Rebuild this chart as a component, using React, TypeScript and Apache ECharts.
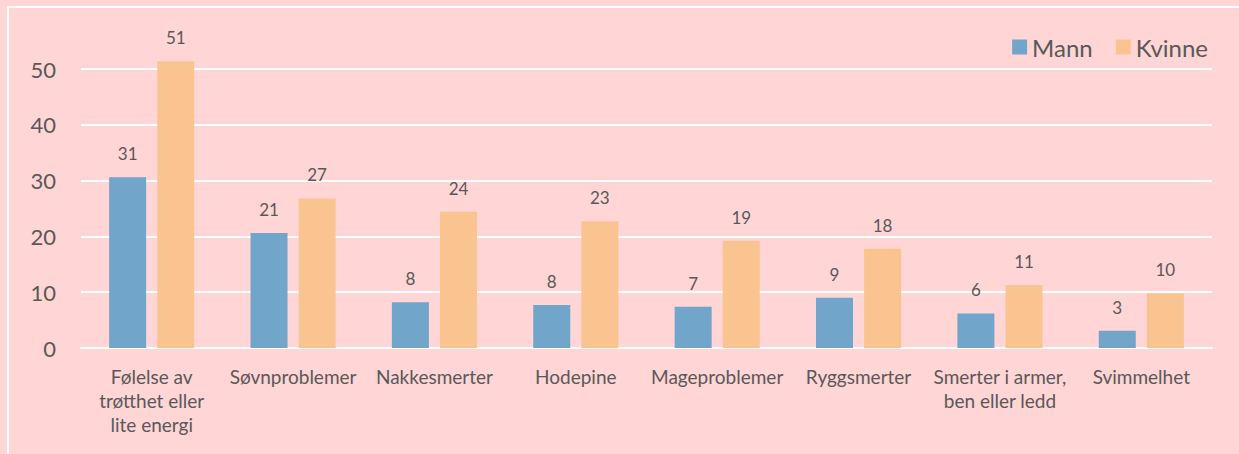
import React, { useEffect, useRef } from "react";
import * as echarts from "echarts";

const categories = [
  "Følelse av\ntrøtthet eller\nlite energi",
  "Søvnproblemer",
  "Nakkesmerter",
  "Hodepine",
  "Mageproblemer",
  "Ryggsmerter",
  "Smerter i armer,\nben eller ledd",
  "Svimmelhet",
];
const mann = [30.6, 20.6, 8.2, 7.7, 7.4, 9.0, 6.2, 3.1];
const kvinne = [51.4, 26.8, 24.4, 22.7, 19.2, 17.8, 11.3, 9.8];
const yTicks = { min: 0, max: 50, interval: 10 };

const FONT = "Lato, 'Noto Sans', sans-serif";
const TEXT = "#595959";

export default function App() {
  const ref = useRef<HTMLDivElement>(null);
  useEffect(() => {
    const chart = echarts.init(ref.current!, null, { renderer: "svg" });
    const label = {
      show: true,
      position: "top",
      distance: 15,
      color: TEXT,
      fontSize: 17,
      fontFamily: FONT,
      formatter: (p: any) => String(Math.round(p.value)),
    };
    chart.setOption({
      animation: false,
      backgroundColor: "#FFD5D5",
      textStyle: { fontFamily: FONT },
      graphic: [
        {
          type: "rect",
          shape: { x: 8, y: 7, width: 1400, height: 600 },
          style: { fill: "none", stroke: "#ffffff", lineWidth: 2 },
          silent: true,
        },
      ],
      legend: {
        right: 26,
        top: 30,
        itemWidth: 15,
        itemHeight: 15,
        itemGap: 23,
        icon: "rect",
        textStyle: { color: TEXT, fontSize: 24, fontFamily: FONT },
        data: ["Mann", "Kvinne"],
      },
      grid: { left: 81, right: 27, top: 69, bottom: 106, containLabel: false },
      xAxis: {
        type: "category",
        data: categories,
        axisLine: { show: true, lineStyle: { color: "#ffffff", width: 2 } },
        axisTick: { show: false },
        axisLabel: {
          color: TEXT,
          fontSize: 19,
          fontFamily: FONT,
          lineHeight: 24,
          margin: 16,
          interval: 0,
        },
      },
      yAxis: {
        type: "value",
        min: yTicks.min,
        max: yTicks.max,
        interval: yTicks.interval,
        axisLine: { show: false },
        axisTick: { show: false },
        splitLine: { lineStyle: { color: "#ffffff", width: 2 } },
        axisLabel: { color: TEXT, fontSize: 22, fontFamily: FONT, margin: 25 },
      },
      series: [
        {
          name: "Mann",
          type: "bar",
          data: mann,
          barWidth: 37,
          barGap: "30%",
          clip: false,
          itemStyle: { color: "#71A5CA" },
          label,
        },
        {
          name: "Kvinne",
          type: "bar",
          data: kvinne,
          barWidth: 37,
          barGap: "30%",
          clip: false,
          itemStyle: { color: "#FAC490" },
          label,
        },
      ],
    });
    return () => chart.dispose();
  }, []);
  return (
    <div
      ref={ref}
      style={{ position: "absolute", left: 0, top: 0, width: 1239, height: 454 }}
    />
  );
}
